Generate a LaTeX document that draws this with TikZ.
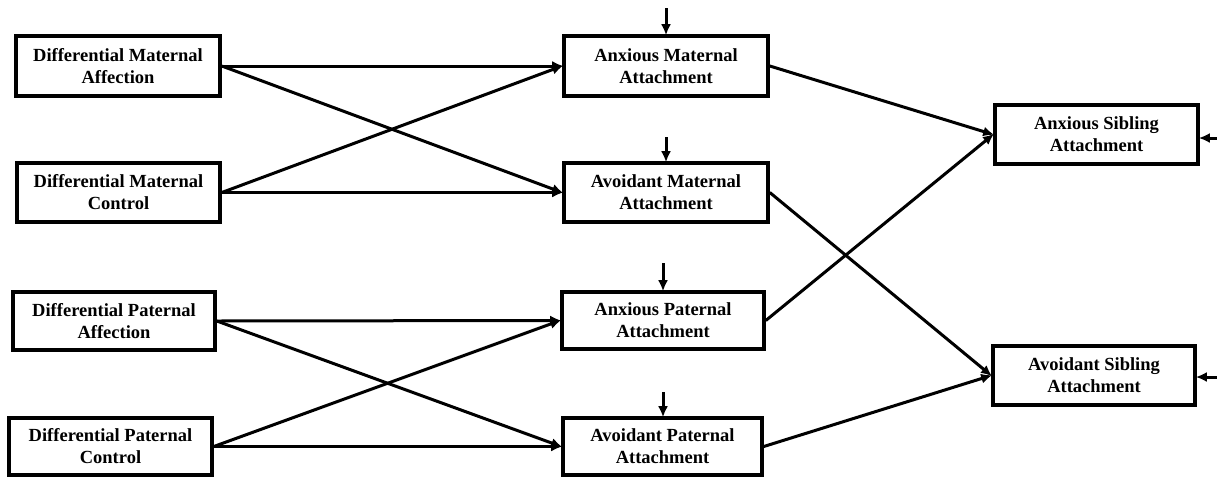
\documentclass[tikz,border=0pt]{standalone}
\usepackage{fontspec}
\setmainfont{Liberation Serif}
\usetikzlibrary{arrows.meta}
\tikzset{
  box/.style={draw, line width=3.6pt, align=center, inner sep=0pt,
    font=\fontsize{18.5}{22}\selectfont\bfseries, fill=white},
  conn/.style={line width=3pt, -{Latex[length=11pt,width=10pt]}, shorten >=-1pt},
}
\begin{document}
\begin{tikzpicture}[x=1pt,y=-1pt]
\useasboundingbox (0,0) rectangle (1217,477);
% left column
\node[box, minimum width=204pt, minimum height=60pt] (A) at (118,66) {Differential Maternal\\Affection};
\node[box, minimum width=203pt, minimum height=59pt] (B) at (118.5,192.5) {Differential Maternal\\Control};
\node[box, minimum width=202pt, minimum height=58pt] (C) at (114,321) {Differential Paternal\\Affection};
\node[box, minimum width=203pt, minimum height=57pt] (D) at (110.5,446.5) {Differential Paternal\\Control};
% middle column
\node[box, minimum width=204pt, minimum height=60pt] (M1) at (666,66) {Anxious Maternal\\Attachment};
\node[box, minimum width=204pt, minimum height=59pt] (M2) at (666,192.5) {Avoidant Maternal\\Attachment};
\node[box, minimum width=202pt, minimum height=57pt] (M3) at (663,320.5) {Anxious Paternal\\Attachment};
\node[box, minimum width=199pt, minimum height=57pt] (M4) at (662.5,446.5) {Avoidant Paternal\\Attachment};
% right column
\node[box, minimum width=203pt, minimum height=59pt] (R1) at (1096.5,134.5) {Anxious Sibling\\Attachment};
\node[box, minimum width=202pt, minimum height=59pt] (R2) at (1094,375.5) {Avoidant Sibling\\Attachment};
% error-term arrow starts
\coordinate (e1) at (666,8);
\coordinate (e2) at (666,137);
\coordinate (e3) at (663,263);
\coordinate (e4) at (663,392);
\coordinate (e5) at (1217,138);
\coordinate (e6) at (1217,377);
% maternal paths
\draw[conn] (A.east) -- (M1.west);
\draw[conn] (A.east) -- (M2.west);
\draw[conn] (B.east) -- (M1.west);
\draw[conn] (B.east) -- (M2.west);
% paternal paths
\draw[conn] (C.east) -- (M3.west);
\draw[conn] (C.east) -- (M4.west);
\draw[conn] (D.east) -- (M3.west);
\draw[conn] (D.east) -- (M4.west);
% to sibling attachment
\draw[conn] (M1.east) -- (R1.west);
\draw[conn] (M3.east) -- (R1.west);
\draw[conn] (M2.east) -- (R2.west);
\draw[conn] (M4.east) -- (R2.west);
% error terms
\draw[conn] (e1) -- (e1 |- M1.north);
\draw[conn] (e2) -- (e2 |- M2.north);
\draw[conn] (e3) -- (e3 |- M3.north);
\draw[conn] (e4) -- (e4 |- M4.north);
\draw[conn] (e5) -- (e5 -| R1.east);
\draw[conn] (e6) -- (e6 -| R2.east);
\end{tikzpicture}
\end{document}
